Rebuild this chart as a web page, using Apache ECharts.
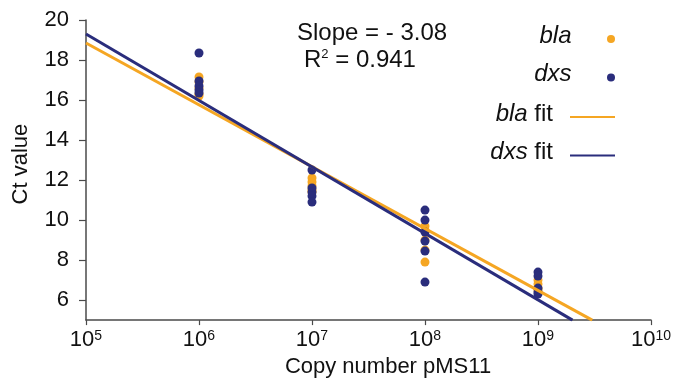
<!DOCTYPE html>
<html><head><meta charset="utf-8">
<script src="https://cdn.jsdelivr.net/npm/echarts@6/dist/echarts.min.js"></script>
<style>html,body{margin:0;padding:0;background:#fff}#c{width:679px;height:383px}</style>
</head><body><div id="c"></div>
<script>
const copyNumbers = [1e6, 1e7, 1e8, 1e9];
const blaCt = [
  [17.15, 16.9, 16.6, 16.3, 16.2],
  [12.1, 11.9, 11.7, 11.5, 11.4],
  [9.7, 9.5, 9.0, 8.5, 7.9],
  [7.0, 6.8, 6.6, 6.5]
];
const dxsCt = [
  [18.35, 16.95, 16.7, 16.5, 16.35],
  [12.5, 11.6, 11.4, 11.2, 10.9],
  [10.5, 10.0, 9.4, 8.95, 8.45, 6.9],
  [7.4, 7.2, 6.6, 6.4, 6.3]
];
const blaFitX = [1e5, 3.02e9];
const blaFitY = [18.85, 5.0];
const dxsFitX = [1e5, 2.02e9];
const dxsFitY = [19.3, 5.0];
const yTicks = [6, 8, 10, 12, 14, 16, 18, 20];
const xTicks = [1e5, 1e6, 1e7, 1e8, 1e9, 1e10];

const ORANGE = '#F5A623';
const NAVY = '#2A2D7C';
const AX = '#4a4a4a';
const TXT = '#111';
const FONT = 'Liberation Sans, Arial, sans-serif';

function pairs(xs, ys2d) {
  const out = [];
  xs.forEach((x, i) => ys2d[i].forEach(y => out.push([x, y])));
  return out;
}
function zip(xs, ys) { return xs.map((x, i) => [x, ys[i]]); }

const chart = echarts.init(document.getElementById('c'));
const legendRich = {
  i: { fontStyle: 'italic', fontSize: 24, fontFamily: FONT, color: TXT, lineHeight: 24 },
  n: { fontSize: 24, fontFamily: FONT, color: TXT, lineHeight: 24 }
};
function legendFmt(name) {
  const parts = name.split(' ');
  return '{i|' + parts[0] + '}' + (parts[1] ? '{n| ' + parts[1] + '}' : '');
}
chart.setOption({
  animation: false,
  grid: { left: 86, right: 28, top: 20, bottom: 60, containLabel: false },
  xAxis: {
    type: 'log', logBase: 10, min: xTicks[0], max: xTicks[xTicks.length - 1],
    name: 'Copy number pMS11', nameLocation: 'middle', nameGap: 35,
    nameTextStyle: { fontSize: 22, lineHeight: 22, fontFamily: FONT, color: TXT, padding: [0, 0, 0, 39] },
    axisLine: { show: true, lineStyle: { color: AX, width: 1.5 } },
    axisTick: { show: true, length: 5, lineStyle: { color: AX, width: 1.2 } },
    splitLine: { show: false },
    axisLabel: {
      margin: 9,
      formatter: function (v) {
        const e = Math.round(Math.log10(v));
        return '{b|10}{s|' + e + '}';
      },
      rich: {
        b: { fontSize: 22, fontFamily: FONT, color: TXT, lineHeight: 22 },
        s: { fontSize: 14, fontFamily: FONT, color: TXT, verticalAlign: 'top', lineHeight: 14 }
      }
    }
  },
  yAxis: {
    type: 'value', min: 5, max: 20,
    name: 'Ct value', nameLocation: 'middle', nameGap: 54,
    nameTextStyle: { fontSize: 22, lineHeight: 22, fontFamily: FONT, color: TXT, padding: [0, 0, 0, 12] },
    axisLine: { show: true, lineStyle: { color: AX, width: 1.5 } },
    axisTick: { show: true, length: 7, customValues: yTicks, lineStyle: { color: AX, width: 1.2 } },
    splitLine: { show: false },
    axisLabel: { customValues: yTicks, fontSize: 22, fontFamily: FONT, color: TXT, margin: 17 }
  },
  legend: [
    {
      orient: 'vertical', right: 64, top: 24, align: 'right', padding: 0,
      itemWidth: 45, itemHeight: 8, itemGap: 14.5,
      icon: 'circle',
      data: ['bla', 'dxs'],
      formatter: legendFmt,
      textStyle: { rich: legendRich, padding: [0, 12, 6, 0] }
    },
    {
      orient: 'vertical', right: 64, top: 102, align: 'right', padding: 0,
      itemWidth: 45, itemHeight: 2, itemGap: 14.5,
      icon: 'rect',
      data: ['bla fit', 'dxs fit'],
      formatter: legendFmt,
      textStyle: { rich: legendRich, padding: [0, 12, 6, 0] }
    }
  ],
  graphic: [
    {
      type: 'text', x: 297, y: 33,
      style: { text: 'Slope = - 3.08', fontSize: 24, fontFamily: FONT, fill: TXT, verticalAlign: 'middle' }
    },
    {
      type: 'text', x: 304, y: 60,
      style: {
        text: '{b|R}{s|2}{b| = 0.941}',
        verticalAlign: 'middle',
        rich: {
          b: { fontSize: 24, fontFamily: FONT, fill: TXT, lineHeight: 24 },
          s: { fontSize: 13, fontFamily: FONT, fill: TXT, verticalAlign: 'top', lineHeight: 13 }
        }
      }
    }
  ],
  series: [
    {
      name: 'bla', type: 'scatter', symbolSize: 9, z: 2,
      itemStyle: { color: ORANGE, opacity: 1 }, data: pairs(copyNumbers, blaCt)
    },
    {
      name: 'dxs', type: 'scatter', symbolSize: 9, z: 3,
      itemStyle: { color: NAVY, opacity: 1 }, data: pairs(copyNumbers, dxsCt)
    },
    {
      name: 'bla fit', type: 'line', z: 4, symbol: 'none', silent: true,
      lineStyle: { color: ORANGE, width: 3 }, itemStyle: { color: ORANGE },
      data: zip(blaFitX, blaFitY)
    },
    {
      name: 'dxs fit', type: 'line', z: 5, symbol: 'none', silent: true,
      lineStyle: { color: NAVY, width: 3 }, itemStyle: { color: NAVY },
      data: zip(dxsFitX, dxsFitY)
    }
  ]
});
</script></body></html>
